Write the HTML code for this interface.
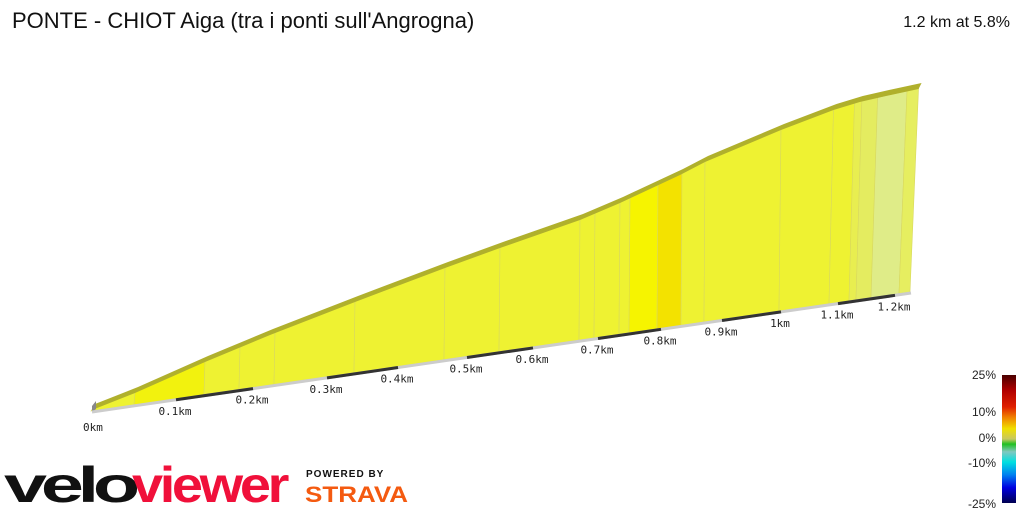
<!DOCTYPE html>
<html><head><meta charset="utf-8"><style>
body{margin:0;background:#fff;width:1024px;height:512px;overflow:hidden;font-family:"Liberation Sans",sans-serif}
svg{position:absolute;left:0;top:0}
</style></head><body>
<svg id="s" width="1024" height="512" xmlns="http://www.w3.org/2000/svg">
<defs><linearGradient id="lg" x1="0" y1="0" x2="0" y2="1">
<stop offset="0" stop-color="#4a0000"/><stop offset="0.12" stop-color="#b00000"/><stop offset="0.25" stop-color="#e02000"/><stop offset="0.33" stop-color="#f08000"/><stop offset="0.42" stop-color="#f0e000"/><stop offset="0.5" stop-color="#c8c860"/><stop offset="0.54" stop-color="#20c020"/><stop offset="0.6" stop-color="#80c8c0"/><stop offset="0.68" stop-color="#00e0e0"/><stop offset="0.78" stop-color="#0080f0"/><stop offset="0.88" stop-color="#0000e0"/><stop offset="1" stop-color="#000050"/></linearGradient></defs>
<text x="12" y="28" font-size="22" fill="#111">PONTE - CHIOT Aiga (tra i ponti sull'Angrogna)</text>
<text x="1010" y="27" font-size="16" fill="#111" text-anchor="end">1.2 km at 5.8%</text>
<g id="g"></g>
<rect x="1002" y="375" width="14" height="128" fill="url(#lg)"/>
<g font-size="12" fill="#222" text-anchor="end">
<text x="996" y="379">25%</text><text x="996" y="416">10%</text><text x="996" y="442">0%</text><text x="996" y="467">-10%</text><text x="996" y="508">-25%</text></g>
<text x="4" y="502" font-size="50" font-weight="bold" fill="#111" letter-spacing="-4" textLength="130" lengthAdjust="spacingAndGlyphs">velo</text>
<text x="132" y="502" font-size="50" font-weight="bold" fill="#f0103a" letter-spacing="-3" textLength="154" lengthAdjust="spacingAndGlyphs">viewer</text>
<text x="306" y="477" font-size="10" font-weight="bold" fill="#111" letter-spacing="1">POWERED BY</text>
<text x="305" y="502" font-size="22" font-weight="bold" fill="#f45a10" textLength="103" lengthAdjust="spacingAndGlyphs">STRAVA</text>
</svg>
<script>
var ns="http://www.w3.org/2000/svg",g=document.getElementById("g");
function by(x){return 411-(x-92)*0.1453;}
function sx(x){return x+Math.max(0,x-760)*0.05;}
var P=[[92,410],[135,393],[205,362],[270,335],[355,302],[445,268],[500,248],[580,220],[620,203],[680,175],[705,162],[780,130],[830,110],[855,102],[880,96],[911,89]];
function ty(x){for(var i=0;i<P.length-1;i++){if(x<=P[i+1][0]){var t=(x-P[i][0])/(P[i+1][0]-P[i][0]);return P[i][1]+t*(P[i+1][1]-P[i][1]);}}return 89;}
function el(n,a){var e=document.createElementNS(ns,n);for(var k in a)e.setAttribute(k,a[k]);g.appendChild(e);return e;}
var B=[92,135,205,240,275,355,445,500,580,595,620,630,658,682,705,780,830,850,857,872,900,911];
var C={135:"#f2f20e",630:"#f6f400",658:"#f3e200",850:"#e8ee50",857:"#e4ec60",872:"#dfec88",900:"#e6ee60"};
for(var i=0;i<B.length-1;i++){var a=B[i],b=B[i+1],c=C[a]||"#eef232";
el("polygon",{points:sx(a)+","+(ty(a)-0.5)+" "+sx(b)+","+(ty(b)-0.5)+" "+(b-1)+","+by(b)+" "+(a-1)+","+by(a),fill:c,stroke:"#d8d860","stroke-width":"0.6"});}
var pts="";P.forEach(function(p){pts+=sx(p[0])+","+p[1]+" ";});
for(var j=P.length-1;j>=0;j--){pts+=(sx(P[j][0])+3)+","+(P[j][1]-6)+" ";}
el("polygon",{points:pts,fill:"#b0b02c"});
el("polygon",{points:"92,406 96,401 96,409 92,412",fill:"#888"});
el("line",{x1:92,y1:412,x2:911,y2:293,stroke:"#ccc","stroke-width":3});
var K=[92,176,253,327,398,467,533,598,661,722,781,838,895],L=["0km","0.1km","0.2km","0.3km","0.4km","0.5km","0.6km","0.7km","0.8km","0.9km","1km","1.1km","1.2km"];
for(var i=1;i<K.length-1;i+=2)el("line",{x1:K[i],y1:by(K[i])+1,x2:K[i+1],y2:by(K[i+1])+1,stroke:"#333","stroke-width":3});
for(var i=0;i<K.length;i++){var t=el("text",{x:K[i]+(i==0?-9:-1),y:by(K[i])+(i==0?20:16),"font-size":"11",fill:"#222","text-anchor":i==0?"start":"middle","font-family":"DejaVu Sans Mono, monospace"});t.textContent=L[i];}
</script>
</body></html>
